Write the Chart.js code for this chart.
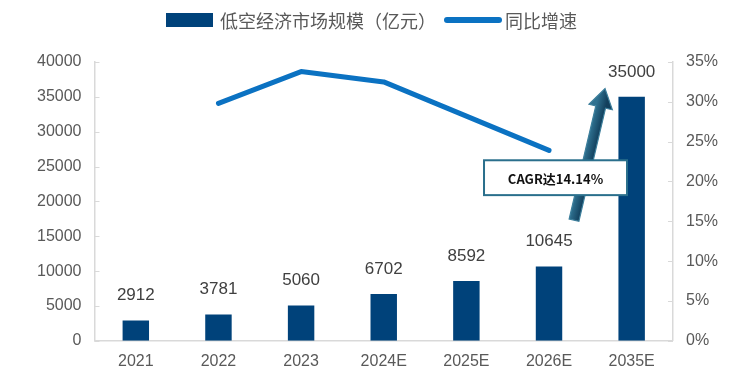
<!DOCTYPE html>
<html>
<head>
<meta charset="utf-8">
<script src="https://cdn.jsdelivr.net/npm/chart.js@4.4.1/dist/chart.umd.min.js"></script>
<style>
  html, body { margin: 0; padding: 0; background: #fff; }
</style>
</head>
<body>
<canvas id="chart" width="749" height="382"></canvas>
<script>
// 数据
const years = ['2021', '2022', '2023', '2024E', '2025E', '2026E', '2035E'];
const marketSize = [2912, 3781, 5060, 6702, 8592, 10645, 35000];   // 亿元
const growthRate = [null, 29.8, 33.8, 32.5, 28.2, 23.9, null];      // %
const cagrText = 'CAGR达14.14%';

const barColor = '#00427a';
const lineColor = '#0b72c2';
const tickColor = '#595959';
const axisColor = '#d9d9d9';
const numFont = "'Liberation Sans', Arial, 'Noto Sans CJK SC', sans-serif";
const cjkFont = "'Noto Sans CJK SC', 'Liberation Sans', sans-serif";

// 自绘图例、数据标签、箭头和 CAGR 框
const extras = {
    id: 'extras',
    afterDatasetsDraw(chart) {
        const ctx = chart.ctx;
        const x = chart.scales.x, y = chart.scales.y, y2 = chart.scales.y2;
        const area = chart.chartArea;

        // 向内的小刻度
        ctx.save();
        ctx.strokeStyle = axisColor;
        ctx.lineWidth = 1;
        y.ticks.forEach((t, i) => {
            const py = Math.round(y.getPixelForTick(i)) + 0.5;
            ctx.beginPath(); ctx.moveTo(area.left, py); ctx.lineTo(area.left + 5, py); ctx.stroke();
        });
        y2.ticks.forEach((t, i) => {
            const py = Math.round(y2.getPixelForTick(i)) + 0.5;
            ctx.beginPath(); ctx.moveTo(area.right - 5, py); ctx.lineTo(area.right, py); ctx.stroke();
        });
        ctx.restore();

        // 柱顶数值
        ctx.save();
        ctx.fillStyle = '#404040';
        ctx.font = '17px ' + numFont;
        ctx.textAlign = 'center';
        ctx.textBaseline = 'middle';
        chart.getDatasetMeta(1).data.forEach((bar, i) => {
            ctx.fillText(String(marketSize[i]), bar.x, bar.y - 25);
        });
        ctx.restore();

        // 箭头
        const tx = x.getPixelForValue(5) + 25, ty = y.getPixelForValue(17300);
        const hx = x.getPixelForValue(5) + 56, hy = y.getPixelForValue(36200);
        const dx = hx - tx, dy = hy - ty, len = Math.hypot(dx, dy);
        const ux = dx / len, uy = dy / len, nx = -uy, ny = ux;
        const sw = 5, hw = 12, hl = 19;
        const bx = hx - ux * hl, by = hy - uy * hl;
        ctx.save();
        const grad = ctx.createLinearGradient(tx - nx * sw, ty - ny * sw, tx + nx * sw, ty + ny * sw);
        grad.addColorStop(0, '#2f7190');
        grad.addColorStop(1, '#123f5c');
        ctx.fillStyle = grad;
        ctx.strokeStyle = '#3d7f9c';
        ctx.lineWidth = 1.2;
        ctx.beginPath();
        ctx.moveTo(tx + nx * sw, ty + ny * sw);
        ctx.lineTo(bx + nx * sw, by + ny * sw);
        ctx.lineTo(bx + nx * hw, by + ny * hw);
        ctx.lineTo(hx, hy);
        ctx.lineTo(bx - nx * hw, by - ny * hw);
        ctx.lineTo(bx - nx * sw, by - ny * sw);
        ctx.lineTo(tx - nx * sw, ty - ny * sw);
        ctx.closePath();
        ctx.fill();
        ctx.stroke();
        ctx.restore();

        // CAGR 框
        const bl = x.getPixelForValue(5) - 65, br = x.getPixelForValue(5) + 78;
        const bt = y.getPixelForValue(25900), bb = y.getPixelForValue(20900);
        ctx.save();
        ctx.fillStyle = '#fff';
        ctx.fillRect(bl, bt, br - bl, bb - bt);
        ctx.strokeStyle = '#2a6f8c';
        ctx.lineWidth = 2;
        ctx.strokeRect(bl, bt, br - bl, bb - bt);
        ctx.fillStyle = '#111';
        ctx.font = 'bold 13px ' + cjkFont;
        ctx.textAlign = 'center';
        ctx.textBaseline = 'middle';
        ctx.fillText(cagrText, (bl + br) / 2, (bt + bb) / 2 + 1);
        ctx.restore();

        // 图例
        ctx.save();
        const ly = 20;
        ctx.fillStyle = barColor;
        ctx.fillRect(166, ly - 7, 47, 14);
        ctx.fillStyle = tickColor;
        ctx.font = '18px ' + cjkFont;
        ctx.textBaseline = 'middle';
        ctx.textAlign = 'left';
        const label1 = chart.data.datasets[1].label;
        ctx.fillText(label1, 220, ly + 1);
        const w1 = ctx.measureText(label1).width;
        const lx = 220 + w1 + 8;
        ctx.strokeStyle = lineColor;
        ctx.lineWidth = 6;
        ctx.lineCap = 'round';
        ctx.beginPath(); ctx.moveTo(lx + 3, ly); ctx.lineTo(lx + 55, ly); ctx.stroke();
        ctx.fillText(chart.data.datasets[0].label, lx + 61, ly + 1);
        ctx.restore();
    }
};

new Chart(document.getElementById('chart'), {
    data: {
        labels: years,
        datasets: [
            {
                type: 'line',
                label: '同比增速',
                data: growthRate,
                yAxisID: 'y2',
                borderColor: lineColor,
                backgroundColor: lineColor,
                borderWidth: 5,
                borderCapStyle: 'round',
                borderJoinStyle: 'round',
                pointRadius: 0,
                tension: 0,
                order: 0
            },
            {
                type: 'bar',
                label: '低空经济市场规模（亿元）',
                data: marketSize,
                yAxisID: 'y',
                backgroundColor: barColor,
                barPercentage: 0.32,
                categoryPercentage: 1,
                order: 1
            }
        ]
    },
    options: {
        responsive: false,
        animation: false,
        devicePixelRatio: 1,
        layout: { padding: { top: 62, right: 18, left: 24, bottom: 0 } },
        plugins: { legend: { display: false }, tooltip: { enabled: false } },
        scales: {
            x: {
                grid: { display: false, drawTicks: false },
                border: { color: axisColor, width: 1.5 },
                ticks: { color: tickColor, font: { family: numFont, size: 16 }, padding: 11 }
            },
            y: {
                position: 'left',
                min: 0, max: 40000,
                grid: { display: false, drawTicks: false },
                border: { color: axisColor, width: 1.5 },
                ticks: { stepSize: 5000, color: tickColor, font: { family: numFont, size: 16 }, padding: 13,
                         callback: v => String(v) }
            },
            y2: {
                position: 'right',
                min: 0, max: 35,
                grid: { display: false, drawTicks: false },
                border: { color: axisColor, width: 1.5 },
                ticks: { stepSize: 5, color: tickColor, font: { family: numFont, size: 16 }, padding: 13,
                         callback: v => v + '%' }
            }
        }
    },
    plugins: [extras]
});
</script>
</body>
</html>
